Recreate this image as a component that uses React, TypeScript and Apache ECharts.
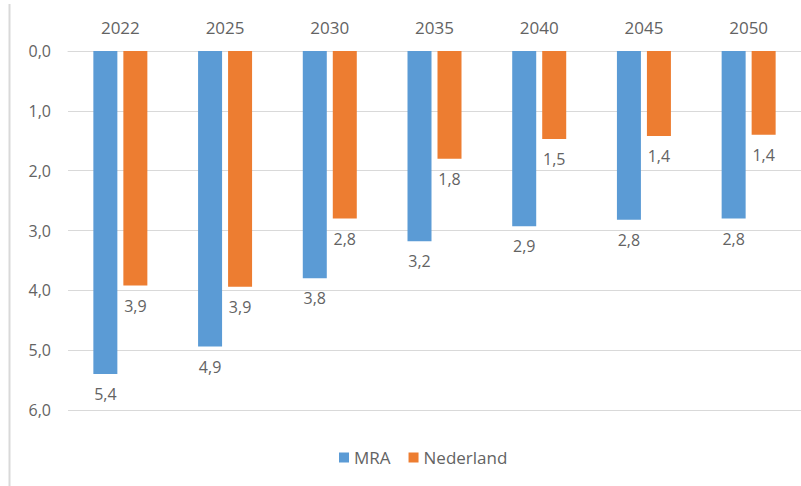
import React, { useEffect, useRef } from "react";
import * as echarts from "echarts";

const categories = ["2022", "2025", "2030", "2035", "2040", "2045", "2050"];
const mraValues = [5.4, 4.94, 3.8, 3.18, 2.93, 2.82, 2.8];
const nlValues = [3.92, 3.94, 2.8, 1.8, 1.47, 1.42, 1.4];
const seriesNames = ["MRA", "Nederland"];

const fmt = (v: number) => v.toFixed(1).replace(".", ",");

export default function App() {
  const ref = useRef<HTMLDivElement>(null);
  useEffect(() => {
    if (!ref.current) return;
    const chart = echarts.init(ref.current, null, { renderer: "svg" });
    const font = "'Open Sans', 'Noto Sans', sans-serif";
    const textColor = "#636363";
    const labelStyle = {
      show: true,
      position: "bottom" as const,
      distance: 12,
      color: textColor,
      fontSize: 16,
      fontFamily: font,
      formatter: (p: any) => fmt(p.value),
    };
    chart.setOption({
      animation: false,
      backgroundColor: "#ffffff",
      grid: { left: 68, top: 51, width: 735, height: 359, containLabel: false },
      legend: {
        data: seriesNames,
        left: 334,
        top: 444,
        icon: "rect",
        itemWidth: 10,
        itemHeight: 10,
        itemGap: 18,
        itemStyle: { borderWidth: 0 },
        textStyle: { color: textColor, fontSize: 17, fontFamily: font },
      },
      xAxis: {
        type: "category",
        position: "top",
        data: categories,
        axisLine: { show: true, lineStyle: { color: "#d9d9d9" } },
        axisTick: { show: false },
        axisLabel: { color: textColor, fontSize: 17, fontFamily: font, margin: 15 },
      },
      yAxis: {
        type: "value",
        inverse: true,
        min: 0,
        max: 6,
        interval: 1,
        axisLine: { show: false },
        axisTick: { show: false },
        splitLine: { lineStyle: { color: "#d9d9d9", width: 1 } },
        axisLabel: {
          color: textColor,
          fontSize: 16,
          fontFamily: font,
          margin: 17,
          formatter: (v: number) => fmt(v),
        },
      },
      series: [
        {
          name: seriesNames[0],
          type: "bar",
          data: mraValues,
          barWidth: 24,
          barGap: "25%",
          itemStyle: { color: "#5b9bd5" },
          label: labelStyle,
        },
        {
          name: seriesNames[1],
          type: "bar",
          data: nlValues,
          barWidth: 24,
          itemStyle: { color: "#ed7d31" },
          label: labelStyle,
        },
      ],
      graphic: [
        {
          type: "line",
          shape: { x1: 9.5, y1: 4, x2: 9.5, y2: 486 },
          style: { stroke: "#d9d9d9", lineWidth: 2 },
        },
      ],
    });
    return () => chart.dispose();
  }, []);
  return (
    <div
      ref={ref}
      style={{ position: "fixed", left: 0, top: 0, width: 801, height: 486 }}
    />
  );
}
